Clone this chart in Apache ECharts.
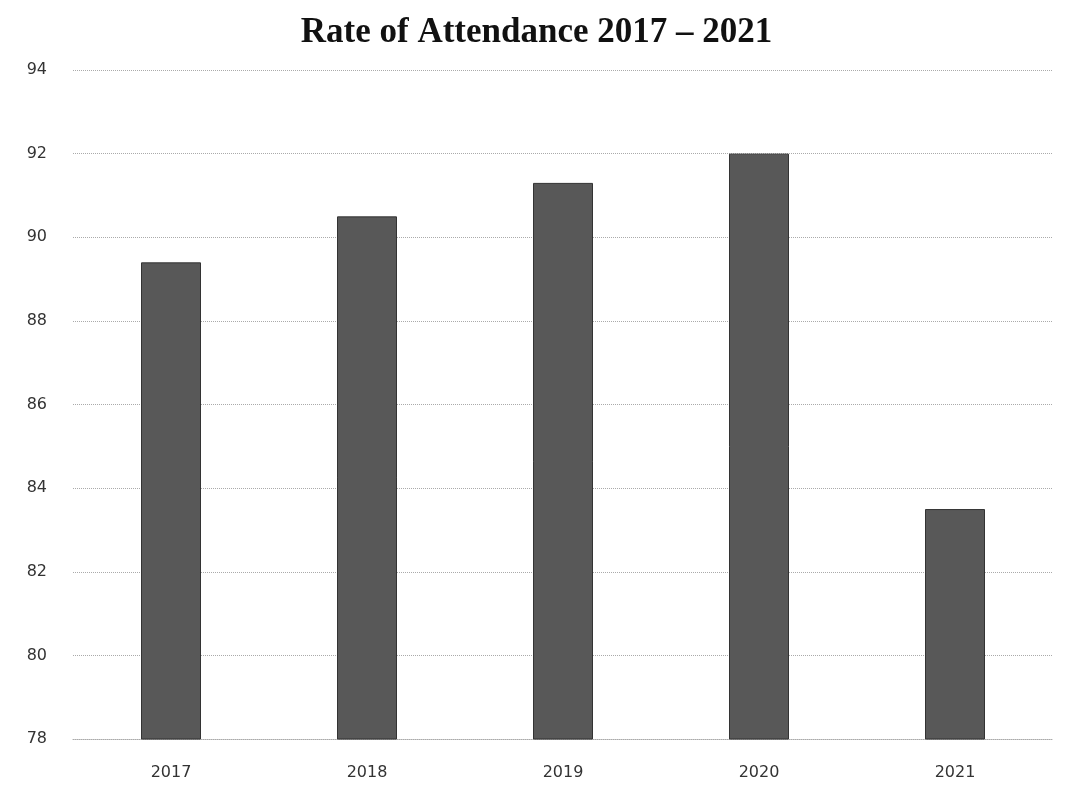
<!DOCTYPE html>
<html>
<head>
<meta charset="utf-8">
<script src="https://cdn.jsdelivr.net/npm/echarts@6/dist/echarts.min.js"></script>
<style>html,body{margin:0;padding:0;background:#fff;}#c{width:1073px;height:801px;}</style>
</head>
<body>
<div id="c"></div>
<script>
const categories = ['2017', '2018', '2019', '2020', '2021'];
const attendance = [89.4, 90.5, 91.3, 92.0, 83.5];
const yTicks = [78, 80, 82, 84, 86, 88, 90, 92, 94];

const chart = echarts.init(document.getElementById('c'));
chart.setOption({
  animation: false,
  backgroundColor: '#ffffff',
  title: {
    text: 'Rate of Attendance 2017 – 2021',
    left: 'center',
    top: 10,
    textStyle: { fontFamily: 'Liberation Serif', fontWeight: 'bold', fontSize: 35, color: '#111' }
  },
  grid: { left: 73, right: 20, top: 70, bottom: 62 },
  xAxis: {
    type: 'category',
    data: categories,
    axisLine: { show: true, lineStyle: { color: '#aaa', type: 'dotted' } },
    axisTick: { show: false },
    axisLabel: { fontFamily: 'DejaVu Sans', fontSize: 16, color: '#333', margin: 26 }
  },
  yAxis: {
    type: 'value',
    min: yTicks[0],
    max: yTicks[yTicks.length - 1],
    interval: 2,
    axisLine: { show: false },
    axisTick: { show: false },
    axisLabel: { fontFamily: 'DejaVu Sans', fontSize: 16, color: '#333', margin: 26 },
    splitLine: { lineStyle: { color: '#aaa', type: 'dotted', width: 1 } }
  },
  series: [{
    type: 'bar',
    data: attendance,
    barWidth: 60,
    itemStyle: { color: '#585858', borderColor: '#333', borderWidth: 1 }
  }]
});
</script>
</body>
</html>
